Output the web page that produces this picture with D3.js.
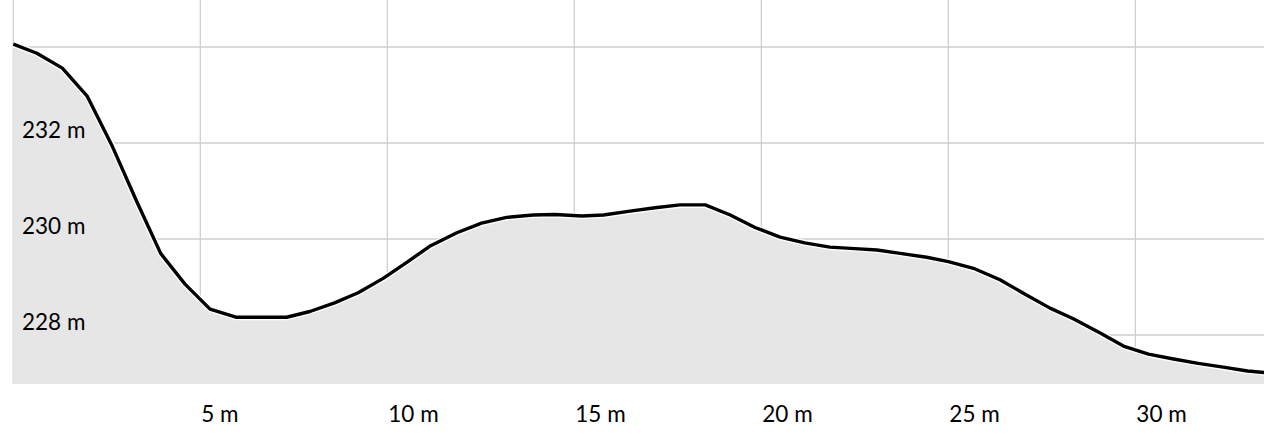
<!DOCTYPE html>
<html>
<head>
<meta charset="utf-8">
<script src="https://cdn.jsdelivr.net/npm/d3@7"></script>
<style>
  html, body { margin: 0; padding: 0; background: #fff; }
  svg { display: block; }
  text { font-family: Lato, "Open Sans", sans-serif; }
</style>
</head>
<body>
<svg id="chart" width="1264" height="444"></svg>
<script>
// Distance along profile (m)
const distances = [
  0, 0.63, 1.31, 1.98, 2.63, 3.30, 3.94, 4.59, 5.26, 5.95,
  6.62, 7.31, 7.93, 8.59, 9.22, 9.89, 10.53, 11.16, 11.86, 12.52,
  13.19, 13.90, 14.48, 15.20, 15.78, 16.49, 17.16, 17.83, 18.50, 19.17,
  19.83, 20.50, 21.16, 21.83, 22.50, 23.09, 23.71, 24.42, 25.00, 25.67,
  26.38, 27.10, 27.72, 28.34, 29.06, 29.68, 30.35, 31.02, 31.68, 32.35,
  33.00, 33.44
];
// Elevation (m)
const elevations = [
  234.06, 233.87, 233.56, 232.97, 231.96, 230.78, 229.70, 229.06, 228.54, 228.37,
  228.37, 228.37, 228.49, 228.67, 228.88, 229.18, 229.52, 229.86, 230.13, 230.33,
  230.45, 230.50, 230.51, 230.48, 230.50, 230.58, 230.65, 230.71, 230.71, 230.50,
  230.24, 230.04, 229.92, 229.83, 229.80, 229.77, 229.70, 229.62, 229.53, 229.39,
  229.15, 228.83, 228.56, 228.34, 228.04, 227.77, 227.60, 227.50, 227.41, 227.33,
  227.25, 227.22
];
const xTicks = [0, 5, 10, 15, 20, 25, 30];
const xTickLabels = ["", "5 m", "10 m", "15 m", "20 m", "25 m", "30 m"];
const yTicks = [228, 230, 232, 234];
const yTickLabels = ["228 m", "230 m", "232 m", ""];

const data = distances.map((d, i) => ({ d, e: elevations[i] }));

const svg = d3.select("#chart");
const left = 13.3, right = 1264, plotBottom = 384;

const x = d3.scaleLinear().domain([0, 33.44]).range([left, right]);
const y = d3.scaleLinear().domain([227, 235]).range([383, -1]);

// grid
const grid = svg.append("g").attr("stroke", "#cfcfcf").attr("stroke-width", 1.3);
grid.selectAll("line.v").data(xTicks).join("line")
  .attr("class", "v")
  .attr("x1", d => x(d)).attr("x2", d => x(d))
  .attr("y1", 0).attr("y2", plotBottom);
grid.selectAll("line.h").data(yTicks).join("line")
  .attr("class", "h")
  .attr("x1", left).attr("x2", right)
  .attr("y1", d => y(d)).attr("y2", d => y(d));

// area
const area = d3.area().x(p => x(p.d)).y0(plotBottom).y1(p => y(p.e));
svg.append("path").datum(data)
  .attr("d", area)
  .attr("fill", "#e6e6e6");

const line = d3.line().x(p => x(p.d)).y(p => y(p.e));
svg.append("path").datum(data)
  .attr("d", line)
  .attr("fill", "none")
  .attr("stroke", "#ffffff")
  .attr("stroke-width", 6)
  .attr("stroke-linejoin", "round");
svg.append("path").datum(data)
  .attr("d", line)
  .attr("fill", "none")
  .attr("stroke", "#000")
  .attr("stroke-width", 3.4)
  .attr("stroke-linejoin", "round");

// y labels
svg.append("g").selectAll("text").data(yTicks).join("text")
  .attr("x", 22)
  .attr("y", d => y(d) - 5)
  .attr("font-size", 22.5)
  .attr("fill", "#000")
  .text((d, i) => yTickLabels[i]);

// x labels
svg.append("g").selectAll("text").data(xTicks).join("text")
  .attr("x", d => x(d) + 1)
  .attr("y", 421.5)
  .attr("font-size", 22.5)
  .attr("fill", "#000")
  .text((d, i) => xTickLabels[i]);
</script>
</body>
</html>
